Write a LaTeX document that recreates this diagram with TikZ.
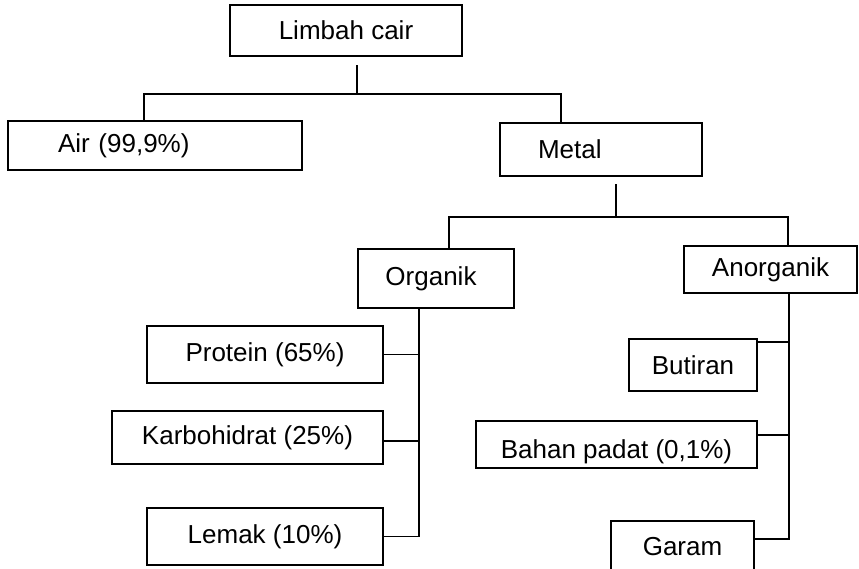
\documentclass[tikz,border=0pt]{standalone}
\usepackage{fontspec}
\setmainfont{Liberation Sans}
\usetikzlibrary{positioning, calc}

\begin{document}
\begin{tikzpicture}[
    box/.style={rectangle, draw, line width=1.1pt, align=center, inner sep=0pt, font=\fontsize{14.8}{17.8}\selectfont},
    leftbox/.style={box, align=left},
    link/.style={draw, line width=0.6pt}
]

% Frame of the picture
\useasboundingbox (0, 0) rectangle (17.18, -11.36);

% Top level
\node[box, minimum width=4.64cm, minimum height=1.02cm] (limbah) at (6.92, -0.61) {Limbah cair};

% Second level
\node[leftbox, inner xsep=1cm, text width=3.88cm, minimum height=0.98cm] (air) at (3.10, -2.91) {Air (99,9\%)};
\node[leftbox, inner xsep=0.76cm, text width=2.52cm, minimum height=1.06cm] (metal) at (12.02, -2.99) {Metal};

% Third level
\node[box, minimum width=3.12cm, minimum height=1.18cm] (organik) at (8.72, -5.57) {\hspace*{-0.2cm}Organik};
\node[box, minimum width=3.46cm, minimum height=0.94cm] (anorganik) at (15.41, -5.39) {Anorganik};

% Organik branch
\node[box, minimum width=4.72cm, minimum height=1.14cm] (protein) at (5.30, -7.09) {Protein (65\%)};
\node[box, minimum width=5.42cm, minimum height=1.06cm] (karbo) at (4.95, -8.75) {Karbohidrat (25\%)};
\node[box, minimum width=4.72cm, minimum height=1.14cm] (lemak) at (5.30, -10.73) {Lemak (10\%)};

% Anorganik branch
\node[box, minimum width=2.56cm, minimum height=1.04cm] (butiran) at (13.86, -7.30) {Butiran};
\node[box, minimum width=5.62cm, minimum height=0.94cm, text height=0.55cm, text depth=0cm] (padat) at (12.33, -8.89) {Bahan padat (0,1\%)};
\node[box, minimum width=2.86cm, minimum height=1.04cm] (garam) at (13.65, -10.94) {Garam};

% Branch points
\coordinate (j1) at (7.14, -1.88);
\coordinate (j2) at (12.32, -4.34);

% Links - first split
\draw[link] (j1) -- ++(0, 0.58);
\draw[link] ([xshift=-0.22cm]air.north) |- (j1) -| ([xshift=-0.8cm]metal.north);

% Links - second split
\draw[link] (j2) -- ++(0, 0.66);
\draw[link] ([xshift=0.26cm]organik.north) |- (j2) -| ([xshift=0.35cm]anorganik.north);

% Links - organik
\draw[link] ([xshift=-0.34cm]organik.south) |- (lemak.east);
\draw[link] (protein.east) -- ++(0.72, 0);
\draw[link] ([yshift=-0.07cm]karbo.east) -- ++(0.72, 0);

% Links - anorganik
\draw[link] ([xshift=0.37cm]anorganik.south) |- ([yshift=0.16cm]garam.east);
\draw[link] ([yshift=0.46cm]butiran.east) -- ++(0.64, 0);
\draw[link] ([yshift=0.19cm]padat.east) -- ++(0.64, 0);

\end{tikzpicture}
\end{document}
